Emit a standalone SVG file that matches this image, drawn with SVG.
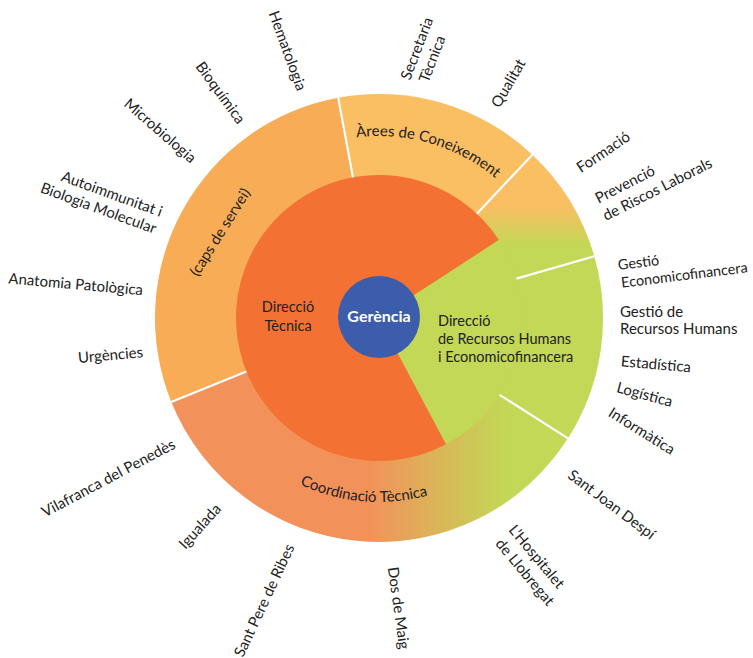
<svg xmlns="http://www.w3.org/2000/svg" width="753" height="658" viewBox="0 0 753 658">
<defs>
<linearGradient id="gForm" gradientUnits="userSpaceOnUse" x1="0" y1="206" x2="0" y2="246">
<stop offset="0" stop-color="#FABE63"/><stop offset="1" stop-color="#C2D856"/>
</linearGradient>
<linearGradient id="gCoord" gradientUnits="userSpaceOnUse" x1="368" y1="0" x2="505" y2="0">
<stop offset="0" stop-color="#F3915B"/><stop offset="1" stop-color="#C2D856"/>
</linearGradient>
<path id="arcArees" d="M 253.38 186.30 A 182 182 0 0 1 555.87 275.05"/>
<path id="arcCoord" d="M 212.24 395.76 A 184 184 0 0 0 529.73 423.54"/>
</defs>
<style>
text{font-family:Lato,"Open Sans","Liberation Sans",sans-serif;fill:#222;}
.lab{font-size:15px;}
.seg{font-size:15px;}
.in{font-size:14.5px;}
.sep{stroke:#fff;stroke-width:2.2;stroke-linecap:butt;}
</style>
<rect width="753" height="658" fill="#fff"/>

<g id="caps-de-servei">
<path d="M379 318 L171.31 401.91 A224 224 0 0 1 338.19 97.74 Z" fill="#F8AC56"/>
<text class="seg" transform="translate(220,232) rotate(-58)" text-anchor="middle" dy=".35em">(caps de servei)</text>
<text class="lab" transform="translate(302,90) rotate(70)" text-anchor="end" dy=".35em">Hematologia</text>
<text class="lab" transform="translate(242,122) rotate(54)" text-anchor="end" dy=".35em">Bioquímica</text>
<text class="lab" transform="translate(194,160) rotate(41)" text-anchor="end" dy=".35em">Microbiologia</text>
<text class="lab" transform="translate(162,212) rotate(20)" text-anchor="end"><tspan x="0" dy=".35em">Autoimmunitat i</tspan><tspan x="0" dy="18">Biologia Molecular</tspan></text>
<text class="lab" transform="translate(143,290) rotate(5)" text-anchor="end" dy=".35em">Anatomia Patològica</text>
<text class="lab" transform="translate(143,352) rotate(-5)" text-anchor="end" dy=".35em">Urgències</text>
</g>

<g id="arees-de-coneixement">
<path d="M379 318 L338.19 97.74 A224 224 0 0 1 532.33 154.70 Z" fill="#FABE63"/>
<text class="seg"><textPath href="#arcArees" startOffset="50%" text-anchor="middle">Àrees de Coneixement</textPath></text>
<text class="lab" transform="translate(405,79) rotate(-69)"><tspan x="0" dy=".35em">Secretaria</tspan><tspan x="4" dy="18">Tècnica</tspan></text>
<text class="lab" transform="translate(495,106) rotate(-60)" dy=".35em">Qualitat</text>
</g>

<g id="formacio-prevencio">
<path d="M379 318 L532.33 154.70 A224 224 0 0 1 594.33 256.26 Z" fill="url(#gForm)"/>
<text class="lab" transform="translate(578,169) rotate(-34)" dy=".35em">Formació</text>
<text class="lab" transform="translate(596,199) rotate(-27)"><tspan x="0" dy=".35em">Prevenció</tspan><tspan x="-1" dy="19">de Riscos Laborals</tspan></text>
</g>

<g id="gestio">
<path d="M379 318 L594.33 256.26 A224 224 0 0 1 567.92 438.36 Z" fill="#C2D856"/>
<text class="lab" transform="translate(618,265) rotate(-7)" style="font-size:14.4px"><tspan x="0" dy=".35em">Gestió</tspan><tspan x="1" dy="18">Economicofinancera</tspan></text>
<text class="lab" transform="translate(620,312)"><tspan x="0" dy=".35em">Gestió de</tspan><tspan x="0" dy="17">Recursos Humans</tspan></text>
<text class="lab" transform="translate(621,361) rotate(5)" dy=".35em">Estadística</text>
<text class="lab" transform="translate(617,387) rotate(15)" dy=".35em">Logística</text>
<text class="lab" transform="translate(610,411) rotate(32)" dy=".35em">Informàtica</text>
</g>

<g id="coordinacio-tecnica">
<path d="M379 318 L567.92 438.36 A224 224 0 0 1 171.31 401.91 Z" fill="url(#gCoord)"/>
<text class="seg"><textPath href="#arcCoord" startOffset="50%" text-anchor="middle">Coordinació Tècnica</textPath></text>
<text class="lab" transform="translate(570,473) rotate(37)" dy=".35em">Sant Joan Despí</text>
<text class="lab" transform="translate(512,527) rotate(50)"><tspan x="0" dy=".35em">L’Hospitalet</tspan><tspan x="2" dy="19">de Llobregat</tspan></text>
<text class="lab" transform="translate(393,567) rotate(82)" dy=".35em">Dos de Maig</text>
<text class="lab" transform="translate(290,545) rotate(-65)" text-anchor="end" dy=".35em">Sant Pere de Ribes</text>
<text class="lab" transform="translate(218,506) rotate(-48)" text-anchor="end" dy=".35em">Igualada</text>
<text class="lab" transform="translate(174,443) rotate(-28)" text-anchor="end" dy=".35em">Vilafranca del Penedès</text>
</g>

<g id="direccio-tecnica">
<path d="M379 318 L446.14 444.25 A143 143 0 1 1 498.93 240.12 Z" fill="#F37233"/>
<text class="in" x="288" y="312" text-anchor="middle">Direcció</text>
<text class="in" x="288" y="331" text-anchor="middle">Tècnica</text>
</g>

<g id="direccio-rrhh">
<path d="M379 318 L498.93 240.12 A143 143 0 0 1 446.14 444.25 Z" fill="#C2D856"/>
<text class="in" x="438" y="326">Direcció</text>
<text class="in" x="438" y="344">de Recursos Humans</text>
<text class="in" x="438" y="362">i Economicofinancera</text>
</g>

<g id="connectors">
<line class="sep" x1="352.94" y1="177.39" x2="338.19" y2="97.74"/>
<line class="sep" x1="476.88" y1="213.75" x2="532.33" y2="154.70"/>
<line class="sep" x1="516.46" y1="278.59" x2="594.33" y2="256.26"/>
<line class="sep" x1="499.61" y1="394.83" x2="567.92" y2="438.36"/>
<line class="sep" x1="246.41" y1="371.57" x2="171.31" y2="401.91"/>
</g>

<g id="gerencia">
<circle cx="379" cy="317" r="41" fill="#3B5DAC"/>
<text x="379" y="322" text-anchor="middle" style="font-size:16px;font-weight:bold;fill:#fff">Gerència</text>
</g>
</svg>
